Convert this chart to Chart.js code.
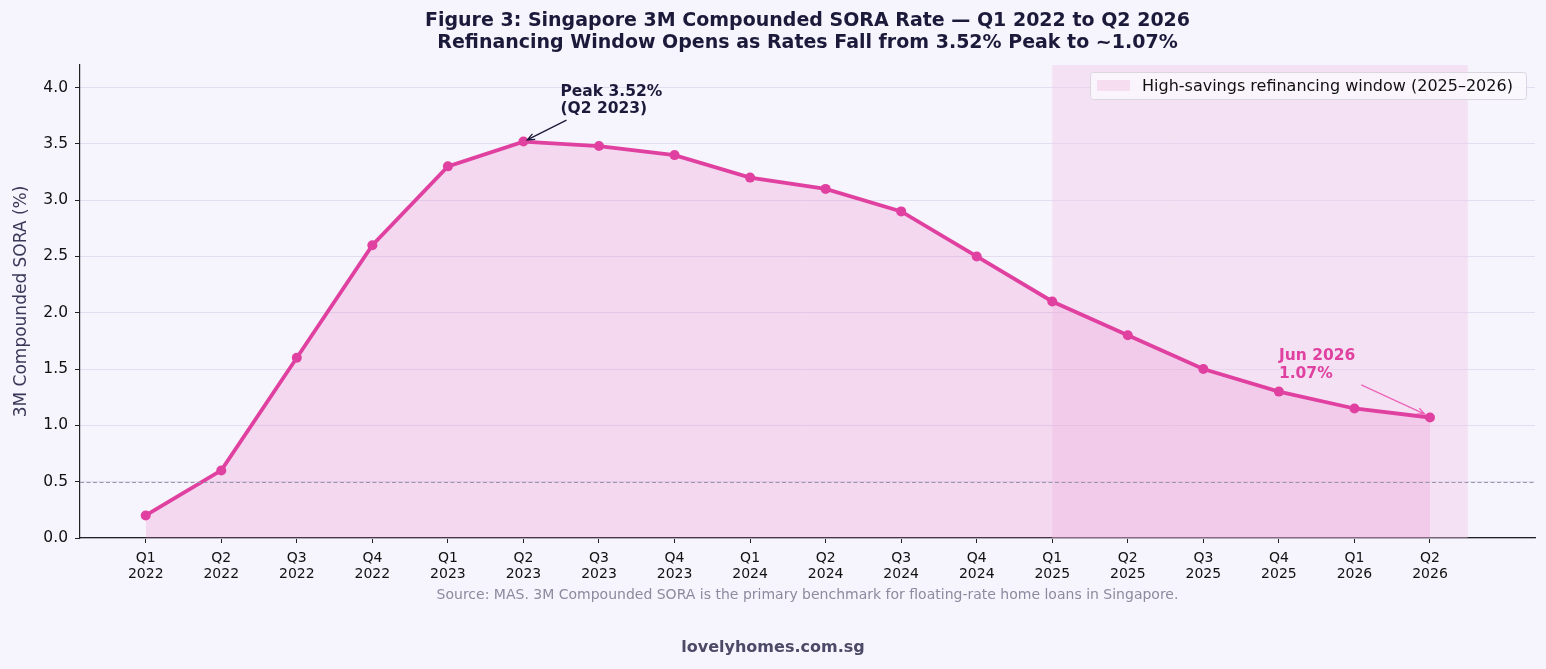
<!DOCTYPE html>
<html>
<head>
<meta charset="utf-8">
<script src="https://cdn.jsdelivr.net/npm/chart.js@4.4.1/dist/chart.umd.min.js"></script>
<style>
  html, body { margin: 0; padding: 0; background: #f6f4fc; }
  #wrap { width: 1546px; height: 669px; }
</style>
</head>
<body>
<div id="wrap"><canvas id="soraChart" width="1546" height="669"></canvas></div>
<script>
// quarters on the x axis
const quarters = ['Q1 2022', 'Q2 2022', 'Q3 2022', 'Q4 2022', 'Q1 2023', 'Q2 2023', 'Q3 2023', 'Q4 2023',
  'Q1 2024', 'Q2 2024', 'Q3 2024', 'Q4 2024', 'Q1 2025', 'Q2 2025', 'Q3 2025', 'Q4 2025', 'Q1 2026', 'Q2 2026'];
// 3M compounded SORA (%)
const soraRates = [0.2, 0.6, 1.6, 2.6, 3.3, 3.52, 3.48, 3.4, 3.2, 3.1, 2.9, 2.5, 2.1, 1.8, 1.5, 1.3, 1.15, 1.07];
const yTicks = [0, 0.5, 1.0, 1.5, 2.0, 2.5, 3.0, 3.5, 4.0];
const windowRange = [12, 17.5];  // refinancing window, in quarter index
const refLine = 0.5;

const pink = '#e040a0';
const navy = '#1c1a3a';
const FONT = '"DejaVu Sans", sans-serif';

// shading, reference line, legend, annotations, footer
const extras = {
  id: 'extras',
  beforeDatasetsDraw(chart) {
    const { ctx, chartArea, scales: { x, y } } = chart;
    ctx.save();
    ctx.fillStyle = 'rgba(242, 200, 232, 0.4)';
    const x0 = x.getPixelForValue(windowRange[0]);
    const x1 = x.getPixelForValue(windowRange[1]);
    ctx.fillRect(x0, chartArea.top, x1 - x0, chartArea.bottom - chartArea.top);
    ctx.restore();
  },
  afterDatasetsDraw(chart) {
    const { ctx, chartArea, scales: { x, y } } = chart;
    ctx.save();
    // dashed reference line
    ctx.strokeStyle = '#9896aa';
    ctx.lineWidth = 1;
    ctx.setLineDash([4, 2.5]);
    const yr = Math.round(y.getPixelForValue(refLine)) + 0.5;
    ctx.beginPath();
    ctx.moveTo(chartArea.left, yr);
    ctx.lineTo(chartArea.right, yr);
    ctx.stroke();
    ctx.setLineDash([]);

    // peak annotation
    ctx.font = 'bold 15.5px ' + FONT;
    ctx.fillStyle = navy;
    ctx.textAlign = 'left';
    ctx.textBaseline = 'middle';
    ctx.fillText('Peak 3.52%', x.getPixelForValue(5.49), y.getPixelForValue(3.96));
    ctx.fillText('(Q2 2023)', x.getPixelForValue(5.49), y.getPixelForValue(3.81));
    arrow(ctx, x.getPixelForValue(5.57), y.getPixelForValue(3.71),
      x.getPixelForValue(5.05), y.getPixelForValue(3.535), navy, 1.3);

    // latest annotation
    ctx.fillStyle = pink;
    ctx.fillText('Jun 2026', x.getPixelForValue(15.0), y.getPixelForValue(1.62));
    ctx.fillText('1.07%', x.getPixelForValue(15.0), y.getPixelForValue(1.46));
    arrow(ctx, x.getPixelForValue(16.09), y.getPixelForValue(1.36),
      x.getPixelForValue(16.93), y.getPixelForValue(1.10), '#ec64b8', 1.3);

    // legend
    const lw = 436, lh = 27;
    const lx = chartArea.right - 9 - lw, ly = chartArea.top + 7;
    ctx.fillStyle = 'rgba(250, 248, 253, 0.85)';
    ctx.strokeStyle = '#d8d6e0';
    ctx.lineWidth = 1;
    roundRect(ctx, lx + 0.5, ly + 0.5, lw, lh, 3);
    ctx.fill();
    ctx.stroke();
    ctx.fillStyle = 'rgba(245, 205, 232, 0.6)';
    ctx.fillRect(lx + 7, ly + 8, 33, 11);
    ctx.fillStyle = '#111';
    ctx.font = '16px ' + FONT;
    ctx.fillText('High-savings refinancing window (2025\u20132026)', lx + 52, ly + lh / 2 + 1);

    // titles
    const cx = (chartArea.left + chartArea.right) / 2;
    ctx.textAlign = 'center';
    ctx.fillStyle = navy;
    ctx.font = 'bold 19px ' + FONT;
    ctx.fillText('Figure 3: Singapore 3M Compounded SORA Rate \u2014 Q1 2022 to Q2 2026', cx, 21);
    ctx.fillText('Refinancing Window Opens as Rates Fall from 3.52% Peak to ~1.07%', cx, 43);

    // source and footer
    ctx.font = '14px ' + FONT;
    ctx.fillStyle = '#8c8a9e';
    ctx.fillText('Source: MAS. 3M Compounded SORA is the primary benchmark for floating-rate home loans in Singapore.', cx, 595);
    ctx.font = 'bold 16px ' + FONT;
    ctx.fillStyle = '#4c4a66';
    ctx.fillText('lovelyhomes.com.sg', chart.width / 2, 648);
    ctx.restore();
  }
};

function arrow(ctx, x1, y1, x2, y2, color, w) {
  const ang = Math.atan2(y2 - y1, x2 - x1);
  const hl = 8;
  ctx.save();
  ctx.strokeStyle = color;
  ctx.lineWidth = w;
  ctx.beginPath();
  ctx.moveTo(x1, y1);
  ctx.lineTo(x2, y2);
  ctx.moveTo(x2 - hl * Math.cos(ang - 0.4), y2 - hl * Math.sin(ang - 0.4));
  ctx.lineTo(x2, y2);
  ctx.lineTo(x2 - hl * Math.cos(ang + 0.4), y2 - hl * Math.sin(ang + 0.4));
  ctx.stroke();
  ctx.restore();
}

function roundRect(ctx, x, y, w, h, r) {
  ctx.beginPath();
  ctx.moveTo(x + r, y);
  ctx.arcTo(x + w, y, x + w, y + h, r);
  ctx.arcTo(x + w, y + h, x, y + h, r);
  ctx.arcTo(x, y + h, x, y, r);
  ctx.arcTo(x, y, x + w, y, r);
  ctx.closePath();
}

const ctx = document.getElementById('soraChart').getContext('2d');
const chart = new Chart(ctx, {
  type: 'line',
  data: {
    datasets: [{
      label: '3M Compounded SORA',
      data: soraRates.map((v, i) => ({ x: i, y: v })),
      borderColor: pink,
      backgroundColor: 'rgba(232, 120, 195, 0.22)',
      fill: 'origin',
      borderWidth: 3.8,
      pointRadius: 5,
      pointBackgroundColor: pink,
      pointBorderColor: pink,
      pointBorderWidth: 0,
      tension: 0
    }]
  },
  options: {
    responsive: false,
    animation: false,
    layout: { padding: { top: 65, right: 11, left: 0, bottom: 0 } },
    plugins: {
      legend: { display: false },
      title: { display: false },
      tooltip: { enabled: false }
    },
    scales: {
      x: {
        type: 'linear',
        min: -0.87,
        max: 18.39,
        afterBuildTicks: axis => { axis.ticks = quarters.map((_, i) => ({ value: i })); },
        afterFit: axis => { axis.height = 131; },
        ticks: {
          autoSkip: false,
          maxRotation: 0,
          padding: 7,
          color: '#111',
          font: { family: FONT, size: 14, lineHeight: 1.15 },
          callback: v => quarters[v] ? quarters[v].split(' ') : ''
        },
        grid: { drawOnChartArea: false, drawTicks: true, tickLength: 5, tickColor: '#222' },
        border: { display: true, color: '#222', width: 1.2 }
      },
      y: {
        min: 0,
        max: 4.2,
        afterBuildTicks: axis => { axis.ticks = yTicks.map(v => ({ value: v })); },
        afterFit: axis => { axis.width = 80; },
        ticks: {
          padding: 7,
          color: '#111',
          font: { family: FONT, size: 15.5 },
          callback: v => v.toFixed(1)
        },
        title: {
          display: true,
          text: '3M Compounded SORA (%)',
          color: '#3a3858',
          font: { family: FONT, size: 17 },
          padding: { top: 11, bottom: 0 }
        },
        grid: { color: '#e2def0', lineWidth: 1, tickLength: 5, tickColor: '#222' },
        border: { display: true, color: '#222', width: 1.2 }
      }
    }
  },
  plugins: [extras]
});
</script>
</body>
</html>
